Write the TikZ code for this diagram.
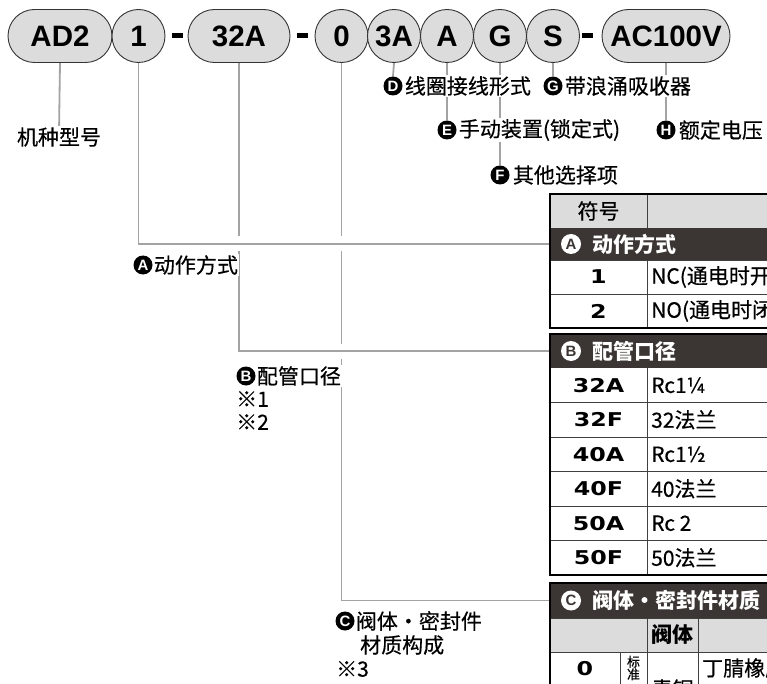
\documentclass[tikz,border=0pt]{standalone}
\usepackage{fontspec}
\setmainfont{Noto Sans CJK SC}
\newfontfamily\cjk[FakeBold=0.45]{Noto Sans CJK SC}
\newfontfamily\pillfont{Liberation Sans}
\newfontfamily\symfont[FakeStretch=1.25]{DejaVu Sans}
\usetikzlibrary{positioning,shapes.misc}
\definecolor{rowdark}{HTML}{3B3533}
\definecolor{headgray}{HTML}{DCDCDC}
\definecolor{leadgray}{HTML}{A3A3A3}
\pgfdeclarelayer{back}
\pgfsetlayers{back,main}
\tikzset{
	pill/.style={rounded rectangle, draw=black!80, line width=0.9pt, fill=headgray, minimum height=53, minimum width=#1, inner sep=0pt, font=\pillfont\bfseries\fontsize{29.5}{29.5}\selectfont},
	ring/.style={circle, draw=black!80, line width=0.9pt, fill=headgray, minimum size=53, inner sep=0pt, font=\pillfont\bfseries\fontsize{29.5}{29.5}\selectfont},
	lead/.style={line width=1.8pt, color=leadgray},
	gapline/.style={lead, preaction={draw, white, line width=15pt}},
	tag/.style={fill=white, inner sep=1pt, font=\cjk\fontsize{21}{21}\selectfont},
	tagdot/.style={circle, fill=black, text=white, minimum size=19, inner sep=0pt, font=\pillfont\bfseries\fontsize{15}{15}\selectfont},
	secrow/.style={fill=rowdark, minimum width=230, inner sep=0pt, anchor=west},
	secdot/.style={circle, fill=white, text=rowdark, minimum size=20, inner sep=0pt, font=\pillfont\bfseries\fontsize{15}{15}\selectfont},
	sectext/.style={text=white, inner sep=0pt, font=\bfseries\fontsize{21}{21}\selectfont},
	code/.style={inner sep=0pt, font=\symfont\bfseries\fontsize{19}{19}\selectfont},
	val/.style={anchor=west, inner sep=0pt, font=\cjk\fontsize{21}{21}\selectfont},
	frame/.style={line width=2.2pt, color=black},
	cell/.style={line width=0.8pt, color=black!75}
}

\begin{document}
\begin{tikzpicture}[x=1pt, y=-1pt]
	%%%%% START %%%%%
	\useasboundingbox (0,0) rectangle (767,684);
	\clip (0,0) rectangle (767,684);
	
	% model code
	\node[pill=104] (ad2) at (60,36) {AD2};
	\node[ring] (c1) at (138.5,36) {1};
	\fill (172,33) rectangle (183,38);
	\node[pill=102] (p32a) at (239,36) {32A};
	\fill (297,33) rectangle (308,38);
	\node[ring] (c0) at (341.5,36) {0};
	\node[ring] (c3a) at (394,36) {3A};
	\node[ring] (ca) at (447,36) {A};
	\node[ring] (cg) at (500,36) {G};
	\node[ring] (cs) at (553,36) {S};
	\fill (582,33) rectangle (593,38);
	\node[pill=128] (pac) at (666,36) {AC100V};
	
	% labels
	\node[tag] (lModel) at (59,137) {机种型号};
	
	\node[tagdot] (bD) at (393,86) {D};
	\node[tag, right=1pt of bD] (lD) {线圈接线形式};
	\node[tagdot] (bG) at (553,86) {G};
	\node[tag, right=1pt of bG] (lG) {带浪涌吸收器};
	\node[tagdot] (bE) at (447,130) {E};
	\node[tag, right=1pt of bE] (lE) {手动装置(锁定式)};
	\node[tagdot] (bH) at (666,130) {H};
	\node[tag, right=2pt of bH] (lH) {额定电压};
	\node[tagdot] (bF) at (500,175) {F};
	\node[tag, right=2pt of bF] (lF) {其他选择项};
	
	\node[tagdot] (bA) at (143,265) {A};
	\node[tag, right=0pt of bA] (lA) {动作方式};
	\node[tagdot] (bB) at (246,376) {B};
	\node[tag, right=0pt of bB] (lB) {配管口径};
	\node[tag, anchor=west] (lB1) at (235,399) {※1};
	\node[tag, anchor=west] (lB2) at (235,422) {※2};
	\node[tagdot] (bC) at (345,621) {C};
	\node[tag, right=0pt of bC] (lC) {阀体・密封件};
	\node[tag, anchor=west] (lC1) at (359,645) {材质构成};
	\node[tag, anchor=west] (lC2) at (335,669) {※3};
	
	% table A
	\fill[headgray] (550,194) rectangle (780,228);
	\node[secrow, minimum height=32] (secA) at (550,244) {};
	\draw[cell] (550,260) -- (780,260) (550,294) -- (780,294);
	\draw[cell] (647,194) -- (647,228) (647,260) -- (647,328);
	\draw[frame] (780,194) -- (550,194) -- (550,328) -- (780,328);
	\node[inner sep=0pt, font=\cjk\fontsize{21}{21}\selectfont] (hSym) at (598.5,211) {符号};
	\node[secdot] (dA) at (571,244) {A};
	\node[sectext, right=11pt of dA] (tA) {动作方式};
	\node[code] (k1) at (598.5,277) {1};
	\node[val] (v1) at (651,277) {NC(通电时开};
	\node[code] (k2) at (598.5,311) {2};
	\node[val] (v2) at (651,311) {NO(通电时闭};
	
	% table B
	\node[secrow, minimum height=34] (secB) at (550,351) {};
	\foreach \y in {402.5,437,471.5,506,540.5}
		\draw[cell] (550,\y) -- (780,\y);
	\draw[cell] (647,368) -- (647,575);
	\draw[frame] (780,334) -- (550,334) -- (550,575) -- (780,575);
	\node[secdot] (dB) at (571,351) {B};
	\node[sectext, right=11pt of dB] (tB) {配管口径};
	\foreach \k/\v [count=\i] in {32A/Rc1¼,32F/32法兰,40A/Rc1½,40F/40法兰,50A/Rc 2,50F/50法兰}{
		\node[code] (kB\i) at (598.5,350.75+34.5*\i) {\k};
		\node[val] (vB\i) at (651,350.75+34.5*\i) {\v};
	}
	
	% table C
	\node[secrow, minimum height=35] (secC) at (550,600.5) {};
	\fill[headgray] (550,618) rectangle (780,652);
	\draw[cell] (550,618) -- (780,618) (550,652) -- (780,652);
	\draw[cell] (647,618) -- (647,690) (698,618) -- (698,690) (620,652) -- (620,690);
	\draw[frame] (780,583) -- (550,583) -- (550,690);
	\node[secdot] (dC) at (571,600.5) {C};
	\node[sectext, right=11pt of dC] (tC) {阀体・密封件材质};
	\node[inner sep=0pt, font=\bfseries\fontsize{21}{21}\selectfont] (hBody) at (672.5,635) {阀体};
	\node[code] (k0) at (585,669) {0};
	\node[inner sep=0pt, align=center, font=\cjk\fontsize{13}{12.5}\selectfont] (std) at (633.5,668) {标\\准};
	\node[inner sep=0pt, font=\cjk\fontsize{21}{21}\selectfont] (bronze) at (672.5,689) {青铜};
	\node[val] (seal) at (702,668) {丁腈橡胶};
	
	% leaders
	\begin{pgfonlayer}{back}
		\draw[lead] (ad2.south) -- ([yshift=-6pt]lModel.north);
		\draw[lead] (c3a.south) -- (bD.north);
		\draw[lead] (ca.south) -- (bE.north);
		\draw[lead] (cg.south) -- (bF.north);
		\draw[lead] (cs.south) -- (bG.north);
		\draw[lead] (pac.south) -- (bH.north);
		\draw[gapline] (c0.south) |- (secC.west);
		\draw[gapline] (p32a.south) |- (secB.west);
		\draw[gapline] (c1.south) |- (secA.west);
	\end{pgfonlayer}
	
	%%%%% END %%%%%
\end{tikzpicture}
\end{document}
